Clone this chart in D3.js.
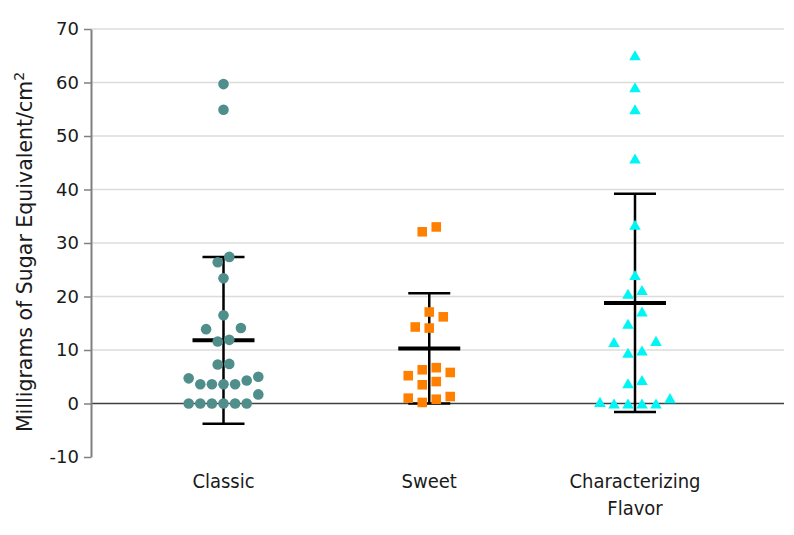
<!DOCTYPE html>
<html><head><meta charset="utf-8">
<script src="https://cdn.jsdelivr.net/npm/d3@7"></script>
<style>body{margin:0;background:#fff} svg{display:block}</style>
</head><body><svg id="chart" width="794" height="535"></svg>
<script>
// ---- data ----
const categories = ["Classic", "Sweet", "Characterizing Flavor"];
const categoryLabels = [["Classic"], ["Sweet"], ["Characterizing", "Flavor"]];
const classicValues = [59.7, 54.9, 27.4, 26.4, 23.4, 16.5, 14.1, 13.9, 11.9, 11.6, 7.4, 7.3, 5.0, 4.7, 4.3, 3.6, 3.6, 3.6, 3.6, 1.7, 0, 0, 0, 0, 0, 0];
const sweetValues = [33.0, 32.1, 17.1, 16.2, 14.3, 14.1, 6.7, 6.3, 5.8, 5.2, 4.1, 3.5, 1.3, 1.0, 0.8, 0.2];
const flavorValues = [65.1, 59.1, 55.0, 45.8, 33.4, 24.0, 21.2, 20.5, 17.2, 14.9, 11.7, 11.5, 9.9, 9.5, 4.4, 3.8, 1.0, 0.3, 0, 0, 0, 0];
const groupMeans = [11.8, 10.3, 18.8];
const groupSDs = [15.6, 10.3, 20.4];
const yTicks = [-10, 0, 10, 20, 30, 40, 50, 60, 70];
const yTitle = "Milligrams of Sugar Equivalent/cm";

// ---- styling ----
const seriesStyle = [
  {color: "#4f8e8b", symbol: d3.symbolCircle, size: 88, step: 11.6, dy: 0},
  {color: "#ff8000", symbol: d3.symbolSquare, size: 92, step: 14, dy: 0},
  {color: "#00f5f5", symbol: d3.symbolTriangle, size: 58, step: 14, dy: 1.65}
];
const allValues = [classicValues, sweetValues, flavorValues];

const svg = d3.select("#chart");
const W = 794, H = 535;
const left = 91, right = 784;
const y = d3.scaleLinear().domain([-10, 70]).range([457, 29]);
const x = d3.scalePoint().domain(categories).range([223.5, 635]);

svg.append("rect").attr("width", W).attr("height", H).attr("fill", "#fff");

// gridlines
svg.append("g").selectAll("line").data(yTicks.filter(t => t > 0)).join("line")
  .attr("x1", left).attr("x2", right)
  .attr("y1", d => y(d)).attr("y2", d => y(d))
  .attr("stroke", "#dcdcdc").attr("stroke-width", 1.5);

// zero line
svg.append("line").attr("x1", left).attr("x2", right)
  .attr("y1", y(0)).attr("y2", y(0))
  .attr("stroke", "#404040").attr("stroke-width", 1.3);

// y axis
const yAxis = svg.append("g").attr("transform", `translate(${left},0)`)
  .call(d3.axisLeft(y).tickValues(yTicks).tickFormat(d => String(d))
    .tickSize(7).tickSizeOuter(0).tickPadding(5));
yAxis.select(".domain").attr("stroke", "#808080").attr("stroke-width", 2);
yAxis.selectAll(".tick line").attr("stroke", "#808080").attr("stroke-width", 1.5);
yAxis.selectAll(".tick text").attr("fill", "#1a1a1a")
  .style("font-family", "'DejaVu Sans', sans-serif").style("font-size", "18px");

// y title
const tt = svg.append("text")
  .attr("transform", `translate(32,252) rotate(-90)`)
  .attr("text-anchor", "middle").attr("fill", "#1a1a1a")
  .style("font-family", "'DejaVu Sans', sans-serif").style("font-size", "20.5px");
tt.append("tspan").text(yTitle);
tt.append("tspan").attr("dy", -8).style("font-size", "14px").text("2");

// category labels
categories.forEach((c, i) => {
  const t = svg.append("text").attr("x", x(c)).attr("y", 488)
    .attr("text-anchor", "middle").attr("fill", "#1a1a1a")
    .style("font-family", "'DejaVu Sans Condensed', 'DejaVu Sans', sans-serif")
    .style("font-size", "20px");
  categoryLabels[i].forEach((line, j) => {
    t.append("tspan").attr("x", x(c)).attr("dy", j === 0 ? 0 : 27).text(line);
  });
});

// error bars (mean ± SD)
const eb = svg.append("g").attr("stroke", "#000");
categories.forEach((c, i) => {
  const cx = x(c), m = groupMeans[i], s = groupSDs[i];
  eb.append("line").attr("x1", cx).attr("x2", cx).attr("y1", y(m - s)).attr("y2", y(m + s)).attr("stroke-width", 2.5);
  [m - s, m + s].forEach(v => eb.append("line").attr("x1", cx - 21).attr("x2", cx + 21)
    .attr("y1", y(v)).attr("y2", y(v)).attr("stroke-width", 2.5));
  eb.append("line").attr("x1", cx - 31).attr("x2", cx + 31).attr("y1", y(m)).attr("y2", y(m)).attr("stroke-width", 4);
});

// beeswarm-style row layout
function swarm(values, step) {
  const sorted = values.slice().sort((a, b) => a - b);
  const rows = [];
  let cur = [];
  sorted.forEach(v => {
    if (cur.length && Math.abs(y(cur[0]) - y(v)) >= 14) { rows.push(cur); cur = []; }
    cur.push(v);
  });
  if (cur.length) rows.push(cur);
  const out = [];
  rows.forEach(r => {
    const n = r.length;
    const slots = d3.range(n).map(i => i - (n - 1) / 2)
      .sort((a, b) => Math.abs(a) - Math.abs(b) || a - b);
    r.forEach((v, k) => out.push({v, off: slots[k] * step}));
  });
  return out;
}

categories.forEach((c, i) => {
  const st = seriesStyle[i];
  const pts = swarm(allValues[i], st.step);
  svg.append("g").selectAll("path").data(pts).join("path")
    .attr("d", d3.symbol().type(st.symbol).size(st.size))
    .attr("transform", d => `translate(${x(c) + d.off},${y(d.v) + st.dy})`)
    .attr("fill", st.color);
});
</script>
</body></html>
